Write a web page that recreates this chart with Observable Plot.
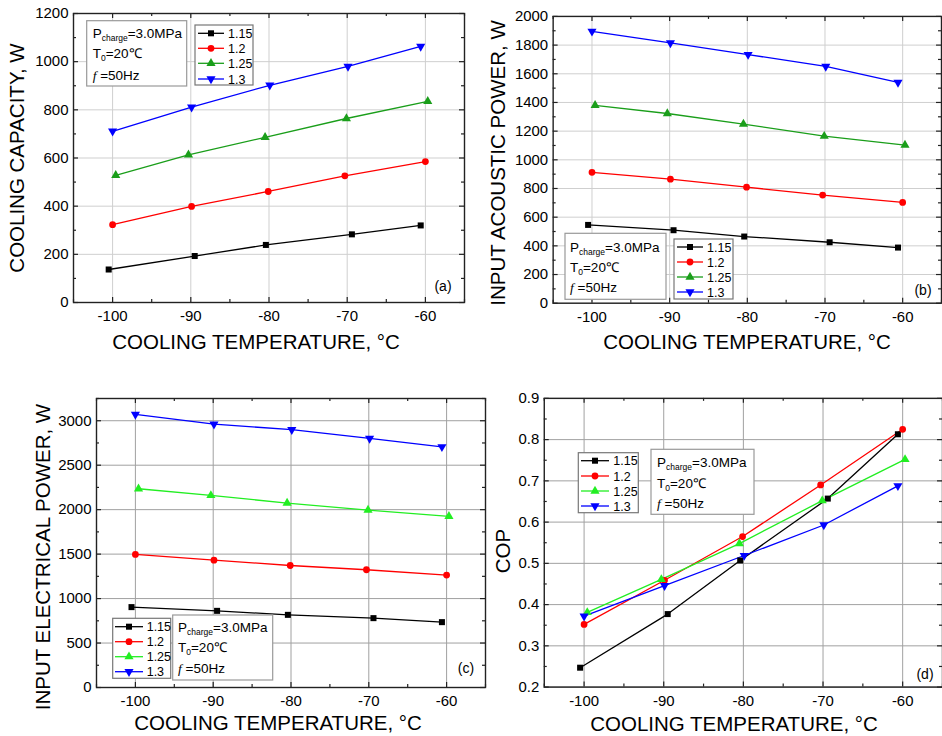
<!DOCTYPE html>
<html><head><meta charset="utf-8">
<script src="https://cdn.jsdelivr.net/npm/d3@7"></script>
<script src="https://cdn.jsdelivr.net/npm/@observablehq/plot@0.6"></script>
<style>
html,body{margin:0;padding:0;background:#fff;}
#page{position:relative;width:942px;height:736px;overflow:hidden;background:#fff;font-family:"Liberation Sans",Arial,sans-serif;}
.panel{position:absolute;}
.title{position:absolute;white-space:nowrap;font-size:20.5px;line-height:1;color:#000;}
</style></head><body><div id="page"></div>
<script>
// ---------- data ----------
const ratios = ["1.15", "1.2", "1.25", "1.3"];
// cooling temperatures of the measured points (markers sit slightly off the grid)
const temps = [
  [-100.5, -89.5, -80.4, -69.4, -60.6],
  [-100, -89.9, -80.1, -70.3, -60],
  [-99.6, -90.3, -80.5, -70.1, -59.7],
  [-100, -89.9, -79.9, -69.9, -60.6]
];
const coolingCapacity = [
  [137, 193, 239, 283, 320],
  [323, 399, 461, 526, 585],
  [528, 613, 686, 764, 835],
  [711, 811, 902, 980, 1063]
];
const acousticPower = [
  [546, 509, 465, 425, 388],
  [913, 865, 809, 754, 703],
  [1380, 1323, 1249, 1165, 1103],
  [1896, 1815, 1734, 1651, 1540]
];
const electricalPower = [
  [904, 862, 817, 780, 735],
  [1496, 1432, 1372, 1324, 1264],
  [2235, 2160, 2074, 1995, 1924],
  [3071, 2962, 2899, 2801, 2707]
];
const cop = [
  [0.247, 0.377, 0.507, 0.657, 0.813],
  [0.352, 0.459, 0.565, 0.690, 0.825],
  [0.381, 0.461, 0.548, 0.652, 0.752],
  [0.372, 0.446, 0.519, 0.593, 0.688]
];
const xMajor = [-100, -90, -80, -70, -60];
const xMinor = [-105, -95, -85, -75, -65, -55];
const yMajorA = [0, 200, 400, 600, 800, 1000, 1200];
const yMinorA = [100, 300, 500, 700, 900, 1100];
const yMajorB = [0, 200, 400, 600, 800, 1000, 1200, 1400, 1600, 1800, 2000];
const yMinorB = [100, 300, 500, 700, 900, 1100, 1300, 1500, 1700, 1900];
const yMajorC = [0, 500, 1000, 1500, 2000, 2500, 3000];
const yMinorC = [250, 750, 1250, 1750, 2250, 2750, 3250];
const yMajorD = [0.2, 0.3, 0.4, 0.5, 0.6, 0.7, 0.8, 0.9];
const yMinorD = [0.25, 0.35, 0.45, 0.55, 0.65, 0.75, 0.85];

// ---------- helpers ----------
const FONT = '"Liberation Sans", Arial, Helvetica, sans-serif';
const triangleDown = {
  draw(ctx, size) {
    d3.symbolTriangle.draw({
      moveTo: (x, y) => ctx.moveTo(x, -y),
      lineTo: (x, y) => ctx.lineTo(x, -y),
      closePath: () => ctx.closePath()
    }, size);
  }
};
const symbols = ["square", "circle", "triangle", triangleDown];
const d3symbols = [d3.symbolSquare, d3.symbolCircle, d3.symbolTriangle, triangleDown];
const R = 3.4;

function rows(values) {
  return ratios.flatMap((s, i) => temps[i].map((t, j) => ({s, t, v: values[i][j]})));
}

const page = document.getElementById("page");

function panel(o) {
  const innerH = o.height - o.mT - o.mB, innerW = o.width - o.mL - o.mR;
  const colors = ["#000000", "#ff0000", o.green, "#0000ff"];
  const data = rows(o.values);
  const tk = "#222";
  const chart = Plot.plot({
    width: o.width, height: o.height,
    marginLeft: o.mL, marginRight: o.mR, marginTop: o.mT, marginBottom: o.mB,
    x: {domain: [-105, -55], label: null},
    y: {domain: o.yDomain, label: null},
    color: {domain: ratios, range: colors},
    symbol: {domain: ratios, range: symbols},
    style: {fontFamily: FONT, fontSize: "15px", color: "#000", background: "transparent", overflow: "visible"},
    marks: [
      Plot.gridX(xMajor, {stroke: o.grid, strokeOpacity: 1}),
      Plot.gridY(o.yMajor, {stroke: o.grid, strokeOpacity: 1}),
      Plot.ruleX(xMajor, {insetBottom: innerH - 5, stroke: tk, strokeWidth: 1.2}),
      Plot.ruleX(xMajor, {insetTop: innerH - 5, stroke: tk, strokeWidth: 1.2}),
      Plot.ruleX(xMinor, {insetBottom: innerH - 3, stroke: tk, strokeWidth: 1.2}),
      Plot.ruleX(xMinor, {insetTop: innerH - 3, stroke: tk, strokeWidth: 1.2}),
      Plot.ruleY(o.yMajor, {insetRight: innerW - 5, stroke: tk, strokeWidth: 1.2}),
      Plot.ruleY(o.yMajor, {insetLeft: innerW - 5, stroke: tk, strokeWidth: 1.2}),
      Plot.ruleY(o.yMinor, {insetRight: innerW - 3, stroke: tk, strokeWidth: 1.2}),
      Plot.ruleY(o.yMinor, {insetLeft: innerW - 3, stroke: tk, strokeWidth: 1.2}),
      Plot.line(data, {x: "t", y: "v", z: "s", stroke: "s", strokeWidth: 1.3}),
      Plot.dot(data, {x: "t", y: "v", symbol: "s", fill: "s", r: R}),
      Plot.frame({stroke: "#222", strokeWidth: 1.4}),
      Plot.axisX(xMajor, {tickSize: 0, tickPadding: 8, tickFormat: d => String(d), label: null}),
      Plot.axisY(o.yMajor, {tickSize: 0, tickPadding: 5, tickFormat: o.yFmt || (d => String(d)), label: null})
    ]
  });
  const div = document.createElement("div");
  div.className = "panel";
  div.style.left = o.left + "px";
  div.style.top = o.top + "px";
  div.appendChild(chart);
  page.appendChild(div);
}

function title(text, cx, cy, rotate) {
  const d = document.createElement("div");
  d.className = "title";
  d.textContent = text;
  d.style.left = cx + "px";
  d.style.top = cy + "px";
  d.style.transform = "translate(-50%,-50%)" + (rotate ? " rotate(-90deg)" : "");
  page.appendChild(d);
}

// ---------- panels ----------
panel({left: 0, top: 0, width: 470, height: 360, mL: 73, mR: 6, mT: 13, mB: 58,
  yDomain: [0, 1200], yMajor: yMajorA, yMinor: yMinorA, values: coolingCapacity,
  green: "#1a9e1a", grid: "#cfcfcf"});
panel({left: 470, top: 0, width: 474, height: 360, mL: 83, mR: 1, mT: 16, mB: 56,
  yDomain: [0, 2000], yMajor: yMajorB, yMinor: yMinorB, values: acousticPower,
  green: "#1a9e1a", grid: "#cfcfcf"});
panel({left: 0, top: 370, width: 490, height: 366, mL: 96, mR: 5, mT: 28, mB: 49,
  yDomain: [0, 3250], yMajor: yMajorC, yMinor: yMinorC, values: electricalPower,
  green: "#22ee22", grid: "#a0a0a0"});
panel({left: 490, top: 370, width: 454, height: 366, mL: 54, mR: 0, mT: 28, mB: 48,
  yDomain: [0.2, 0.9], yMajor: yMajorD, yMinor: yMinorD, values: cop,
  green: "#22ee22", grid: "#a0a0a0", yFmt: d => d.toFixed(1)});

// ---------- axis titles ----------
title("COOLING TEMPERATURE, \u00B0C", 256, 342);
title("COOLING TEMPERATURE, \u00B0C", 747, 342);
title("COOLING TEMPERATURE, \u00B0C", 278, 723);
title("COOLING TEMPERATURE, \u00B0C", 734, 724);
title("COOLING CAPACITY, W", 17, 158, true);
title("INPUT ACOUSTIC POWER, W", 498, 163, true);
title("INPUT ELECTRICAL POWER, W", 43, 557, true);
title("COP", 503, 551, true);

// ---------- legends & annotations ----------
const svg = d3.select(page).append("svg")
  .attr("width", 942).attr("height", 736)
  .style("position", "absolute").style("left", 0).style("top", 0)
  .style("font-family", FONT);

function legend(x, y, w, h, lx1, lx2, tx, rowY, green) {
  const colors = ["#000000", "#ff0000", green, "#0000ff"];
  svg.append("rect").attr("x", x).attr("y", y).attr("width", w).attr("height", h)
    .attr("fill", "#fff").attr("stroke", "#777").attr("stroke-width", 1.2);
  ratios.forEach((s, i) => {
    const cy = rowY[i];
    svg.append("line").attr("x1", lx1).attr("x2", lx2).attr("y1", cy).attr("y2", cy)
      .attr("stroke", colors[i]).attr("stroke-width", 1.3);
    svg.append("path").attr("transform", `translate(${(lx1 + lx2) / 2},${cy})`)
      .attr("d", d3.symbol(d3symbols[i], Math.PI * R * R)()).attr("fill", colors[i]);
    svg.append("text").attr("x", tx).attr("y", cy + 4.5).attr("font-size", 12.5).text(s);
  });
}

function annot(x, y, w, h, tx, rowY) {
  svg.append("rect").attr("x", x).attr("y", y).attr("width", w).attr("height", h)
    .attr("fill", "#fff").attr("stroke", "#999").attr("stroke-width", 1.2);
  const t1 = svg.append("text").attr("x", tx).attr("y", rowY[0] + 4.8).attr("font-size", 13.5);
  t1.append("tspan").text("P");
  t1.append("tspan").attr("font-size", 8.5).attr("dy", 3).text("charge");
  t1.append("tspan").attr("dy", -3).text("=3.0MPa");
  const t2 = svg.append("text").attr("x", tx).attr("y", rowY[1] + 4.8).attr("font-size", 13.5);
  t2.append("tspan").text("T");
  t2.append("tspan").attr("font-size", 8.5).attr("dy", 3).text("0");
  t2.append("tspan").attr("dy", -3).text("=20\u2103");
  const t3 = svg.append("text").attr("x", tx).attr("y", rowY[2] + 4.8).attr("font-size", 13.5);
  t3.append("tspan").attr("font-style", "italic").attr("font-family", '"Liberation Serif", serif').text("f");
  t3.append("tspan").text(" =50Hz");
}

// (a)
annot(86.7, 20.7, 100, 65.3, 92.7, [33.3, 53.3, 75]);
legend(195, 25, 58, 60, 198, 224, 228, [33.3, 48.3, 63.3, 79], "#1a9e1a");
// (b)
annot(565, 233.3, 101, 66, 570, [247, 267, 287]);
legend(674, 239, 59, 60, 677, 703, 707, [247, 262, 277, 292], "#1a9e1a");
// (c)
legend(112.7, 618.3, 58, 60, 115, 143, 146.7, [626.7, 641.7, 656.7, 671.7], "#22ee22");
annot(172.7, 615, 100, 65, 178, [626.7, 646.7, 667.7]);
// (d)
legend(578.3, 452.7, 60, 60, 581, 609, 613.3, [460.7, 476, 491, 506], "#22ee22");
annot(651, 449.3, 103, 65, 657, [461.7, 482.7, 503.3]);

// panel letters
[["(a)", 443, 286], ["(b)", 923, 290], ["(c)", 466, 668], ["(d)", 925, 674]].forEach(([t, x, y]) => {
  svg.append("text").attr("x", x).attr("y", y + 5).attr("text-anchor", "middle")
    .attr("font-size", 14).text(t);
});
</script></body></html>
